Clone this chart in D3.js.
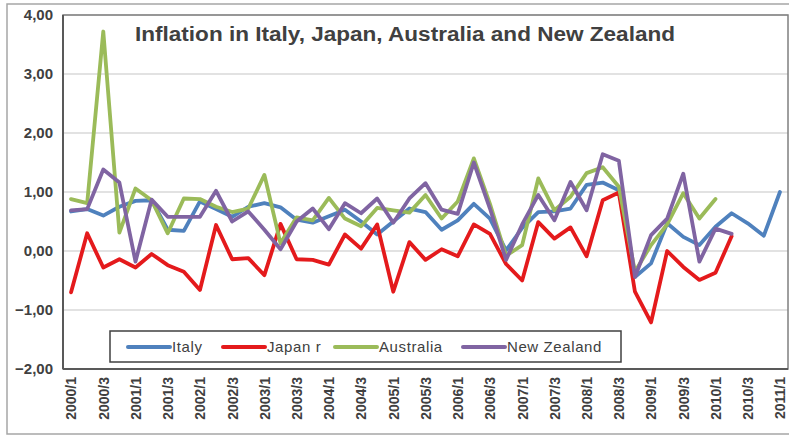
<!DOCTYPE html>
<meta charset='utf-8'>
<head>
    <title>Inflation</title>
    <script src='https://cdn.jsdelivr.net/npm/d3@7/dist/d3.min.js'></script>
</head>

<style>
    body { margin: 0; background: white; }
    text { font-family: 'Liberation Sans', Arial, sans-serif; fill: #404040; }
    .grid line { stroke: #d9d9d9; stroke-width: 1.5px; }
    .series { fill: none; stroke-width: 3.8px; stroke-linejoin: round; stroke-linecap: round; }
</style>

<svg></svg>

<script>
    var vWidth = 789;
    var vHeight = 435;

    // quarters 2000/1 .. 2011/1
    var quarters = [];
    for (var yr = 2000; yr <= 2011; yr++) {
        for (var q = 1; q <= 4; q++) {
            if (yr === 2011 && q > 1) break;
            quarters.push(yr + '/' + q);
        }
    }

    var italy = [0.67, 0.71, 0.60, 0.75, 0.85, 0.86, 0.36, 0.34, 0.84, 0.71,
                 0.58, 0.75, 0.81, 0.74, 0.53, 0.48, 0.59, 0.70, 0.50, 0.28,
                 0.50, 0.72, 0.66, 0.36, 0.52, 0.80, 0.55, 0.01, 0.39, 0.66,
                 0.67, 0.72, 1.12, 1.16, 1.03, -0.44, -0.21, 0.47, 0.24, 0.10,
                 0.41, 0.64, 0.47, 0.26, 1.00];
    var japan = [-0.70, 0.30, -0.28, -0.14, -0.28, -0.05, -0.24, -0.35, -0.66, 0.44,
                 -0.14, -0.12, -0.41, 0.46, -0.14, -0.15, -0.23, 0.28, 0.04, 0.45,
                 -0.69, 0.15, -0.15, 0.03, -0.09, 0.45, 0.29, -0.22, -0.50, 0.49,
                 0.21, 0.40, -0.09, 0.86, 0.99, -0.69, -1.21, 0.00, -0.27, -0.49,
                 -0.37, 0.25];
    var australia = [0.88, 0.81, 3.72, 0.31, 1.06, 0.86, 0.30, 0.89, 0.88, 0.75,
                     0.66, 0.72, 1.29, 0.13, 0.57, 0.52, 0.90, 0.55, 0.42, 0.73,
                     0.69, 0.65, 0.95, 0.55, 0.84, 1.57, 0.80, -0.08, 0.10, 1.23,
                     0.69, 0.92, 1.32, 1.42, 1.09, -0.35, 0.10, 0.45, 0.98, 0.55,
                     0.88];
    var newZealand = [0.69, 0.71, 1.38, 1.16, -0.18, 0.87, 0.58, 0.58, 0.58, 1.02,
                      0.50, 0.67, 0.36, 0.03, 0.50, 0.72, 0.37, 0.81, 0.64, 0.89,
                      0.48, 0.89, 1.15, 0.70, 0.63, 1.50, 0.72, -0.15, 0.45, 0.95,
                      0.52, 1.17, 0.69, 1.64, 1.53, -0.44, 0.27, 0.55, 1.31, -0.18,
                      0.38, 0.29];

    var seriesNames = ['Italy', 'Japan r', 'Australia', 'New Zealand'];
    var seriesColors = ['#4f81bd', '#e41a1c', '#9bbb59', '#8064a2'];
    var seriesValues = [italy, japan, australia, newZealand];
    var yTicks = [-2, -1, 0, 1, 2, 3, 4];

    var svg = d3.select('svg').attr('width', vWidth).attr('height', vHeight);

    // outer chart frame
    svg.append('rect').attr('x', 7).attr('y', 4).attr('width', 790).attr('height', 430)
        .attr('fill', 'white').attr('stroke', '#a6a6a6').attr('stroke-width', 1.5);

    var pLeft = 63, pTop = 15, pRight = 788, pBottom = 369;

    var x = d3.scalePoint().domain(quarters).range([pLeft, pRight]).padding(0.5);
    var y = d3.scaleLinear().domain([-2, 4]).range([pBottom, pTop]);

    // gridlines
    svg.append('g').attr('class', 'grid').selectAll('line').data(yTicks.slice(1)).enter().append('line')
        .attr('x1', pLeft).attr('x2', pRight)
        .attr('y1', function (d) { return y(d); }).attr('y2', function (d) { return y(d); });

    // plot border
    svg.append('rect').attr('x', pLeft).attr('y', pTop).attr('width', pRight - pLeft).attr('height', pBottom - pTop)
        .attr('fill', 'none').attr('stroke', '#7f7f7f').attr('stroke-width', 1.5);
    svg.append('line').attr('x1', pLeft).attr('x2', pLeft).attr('y1', pTop).attr('y2', pBottom)
        .attr('stroke', '#595959').attr('stroke-width', 2);
    svg.append('line').attr('x1', pLeft).attr('x2', pRight).attr('y1', pBottom).attr('y2', pBottom)
        .attr('stroke', '#595959').attr('stroke-width', 2);

    // y axis
    var yAxis = d3.axisLeft(y).tickValues(yTicks).tickSize(0).tickPadding(10)
        .tickFormat(function (d) { return d3.format('.2f')(d).replace('.', ','); });
    var gy = svg.append('g').attr('transform', 'translate(' + pLeft + ',0)').call(yAxis);
    gy.select('.domain').remove();
    gy.selectAll('text').style('font-size', '15px').style('font-weight', 'bold').attr('fill', '#404040');

    // x axis
    var xAxis = d3.axisBottom(x).tickValues(quarters.filter(function (d, i) { return i % 2 === 0; }))
        .tickSize(0);
    var gx = svg.append('g').attr('transform', 'translate(0,' + pBottom + ')').call(xAxis);
    gx.select('.domain').remove();
    gx.selectAll('text')
        .attr('transform', 'rotate(-90)')
        .attr('x', -8).attr('y', 0).attr('dy', '0.35em')
        .style('text-anchor', 'end')
        .style('font-size', '14px').style('font-weight', 'bold').attr('fill', '#404040');

    // series lines
    var line = d3.line()
        .x(function (d, i) { return x(quarters[i]); })
        .y(function (d) { return y(d); });

    svg.selectAll('path.series').data(seriesValues).enter().append('path')
        .attr('class', 'series')
        .attr('stroke', function (d, i) { return seriesColors[i]; })
        .attr('d', line);

    // title
    svg.append('text').attr('x', 405).attr('y', 41).attr('text-anchor', 'middle')
        .attr('textLength', 540).attr('lengthAdjust', 'spacingAndGlyphs')
        .style('font-size', '20px').style('font-weight', 'bold')
        .text('Inflation in Italy, Japan, Australia and New Zealand');

    // legend
    var legend = svg.append('g');
    legend.append('rect').attr('x', 110).attr('y', 331).attr('width', 511).attr('height', 31)
        .attr('fill', 'white').attr('stroke', '#404040').attr('stroke-width', 1.5);
    var legendX = [128, 223, 335, 463];
    var item = legend.selectAll('g.item').data(seriesNames).enter().append('g')
        .attr('transform', function (d, i) { return 'translate(' + legendX[i] + ',347)'; });
    item.append('line').attr('x1', 0).attr('x2', 42).attr('y1', 0).attr('y2', 0)
        .attr('stroke', function (d, i) { return seriesColors[i]; })
        .attr('stroke-width', 4).attr('stroke-linecap', 'round');
    item.append('text').attr('x', 44).attr('dy', '0.35em')
        .style('font-size', '15px').style('letter-spacing', '0.6px')
        .text(function (d) { return d; });
</script>
